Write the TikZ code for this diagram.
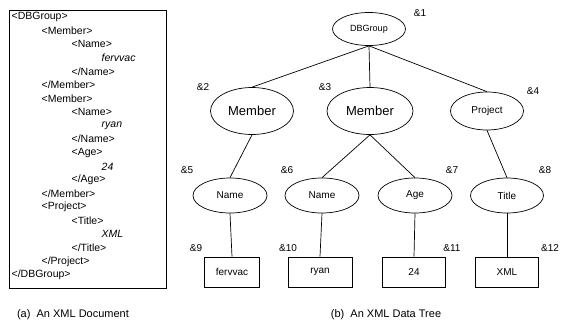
\documentclass[tikz,border=0pt]{standalone}
\usepackage{fontspec}
\setmainfont{Liberation Sans}
\usetikzlibrary{shapes.geometric}
\begin{document}
\begin{tikzpicture}[x=1pt,y=-1pt,line width=0.7pt,
  elem/.style={draw,ellipse,inner sep=0pt,minimum width=74,minimum height=35,font=\fontsize{10}{11}\selectfont},
  leaf/.style={draw,rectangle,inner sep=0pt,minimum height=30,font=\fontsize{10}{11}\selectfont},
  oid/.style={font=\fontsize{10}{11}\selectfont},
  xml/.style={anchor=west,font=\fontsize{10.5}{12}\selectfont},
  capt/.style={font=\fontsize{11}{12}\selectfont}]
\useasboundingbox (0,0) rectangle (563,322);
%(a) document
\draw (9,10) rectangle (166,288);
\foreach \lvl/\txt [count=\i from 0] in {0/{<DBGroup>},1/{<Member>},2/{<Name>},3/{\textit{fervvac}},2/{</Name>},
  1/{</Member>},1/{<Member>},2/{<Name>},3/{\textit{ryan}},2/{</Name>},2/{<Age>},3/{\textit{24}},2/{</Age>},
  1/{</Member>},1/{<Project>},2/{<Title>},3/{\textit{XML}},2/{</Title>},1/{</Project>},0/{</DBGroup>}}
  \node[xml] (line\i) at ({8+30*\lvl},{17+13.58*\i}) {\txt};
\node[capt] (capa) at (73,315) {(a)\ \ An XML Document};
%(b) tree
\node[elem,minimum width=73,minimum height=33,font=\fontsize{9}{10}\selectfont] (db) at (369,29) {DBGroup};
\node[elem,minimum width=83,minimum height=47,font=\fontsize{13}{15}\selectfont] (m1) at (252,111) {Member};
\node[elem,minimum width=86,minimum height=47,font=\fontsize{13}{15}\selectfont] (m2) at (370,111) {Member};
\node[elem,minimum width=73,minimum height=38] (pr) at (487,111) {Project};
\node[elem] (n1) at (230,195.5) {Name};
\node[elem] (n2) at (322,195.5) {Name};
\node[elem] (ag) at (415,195.5) {Age};
\node[elem,minimum width=73] (ti) at (507,195.5) {Title};
\node[leaf,minimum width=55] (v1) at (232,272) {fervvac};
\node[leaf,minimum width=64] (v2) at (320,272) {ryan};
\node[leaf,minimum width=63] (v3) at (414,272) {24};
\node[leaf,minimum width=63] (v4) at (507,272) {XML};
%edges
\draw (db.south) -- (m1.north);
\draw (db.south) -- (m2.north);
\draw (db.south) -- (pr.north);
\draw (m1.south) -- (n1.north);
\draw (m2.south) -- (n2.north);
\draw (m2.south) -- (ag.north);
\draw (pr.south) -- (ti.north);
\draw (n1.south) -- (v1.north);
\draw (n2.south) -- (v2.north);
\draw (ag.south) -- (v3.north);
\draw (ti.south) -- (v4.north);
%object ids
\node[oid] (o1) at (420,13) {\&1};
\node[oid] (o2) at (203,87) {\&2};
\node[oid] (o3) at (325,87) {\&3};
\node[oid] (o4) at (533,91) {\&4};
\node[oid] (o5) at (187,170) {\&5};
\node[oid] (o6) at (287,170) {\&6};
\node[oid] (o7) at (452,170) {\&7};
\node[oid] (o8) at (545,170) {\&8};
\node[oid] (o9) at (196,248) {\&9};
\node[oid] (o10) at (288,248) {\&10};
\node[oid] (o11) at (452,248) {\&11};
\node[oid] (o12) at (550,248) {\&12};
\node[capt] (capb) at (386,315) {(b)\ \ An XML Data Tree};
\end{tikzpicture}
\end{document}
